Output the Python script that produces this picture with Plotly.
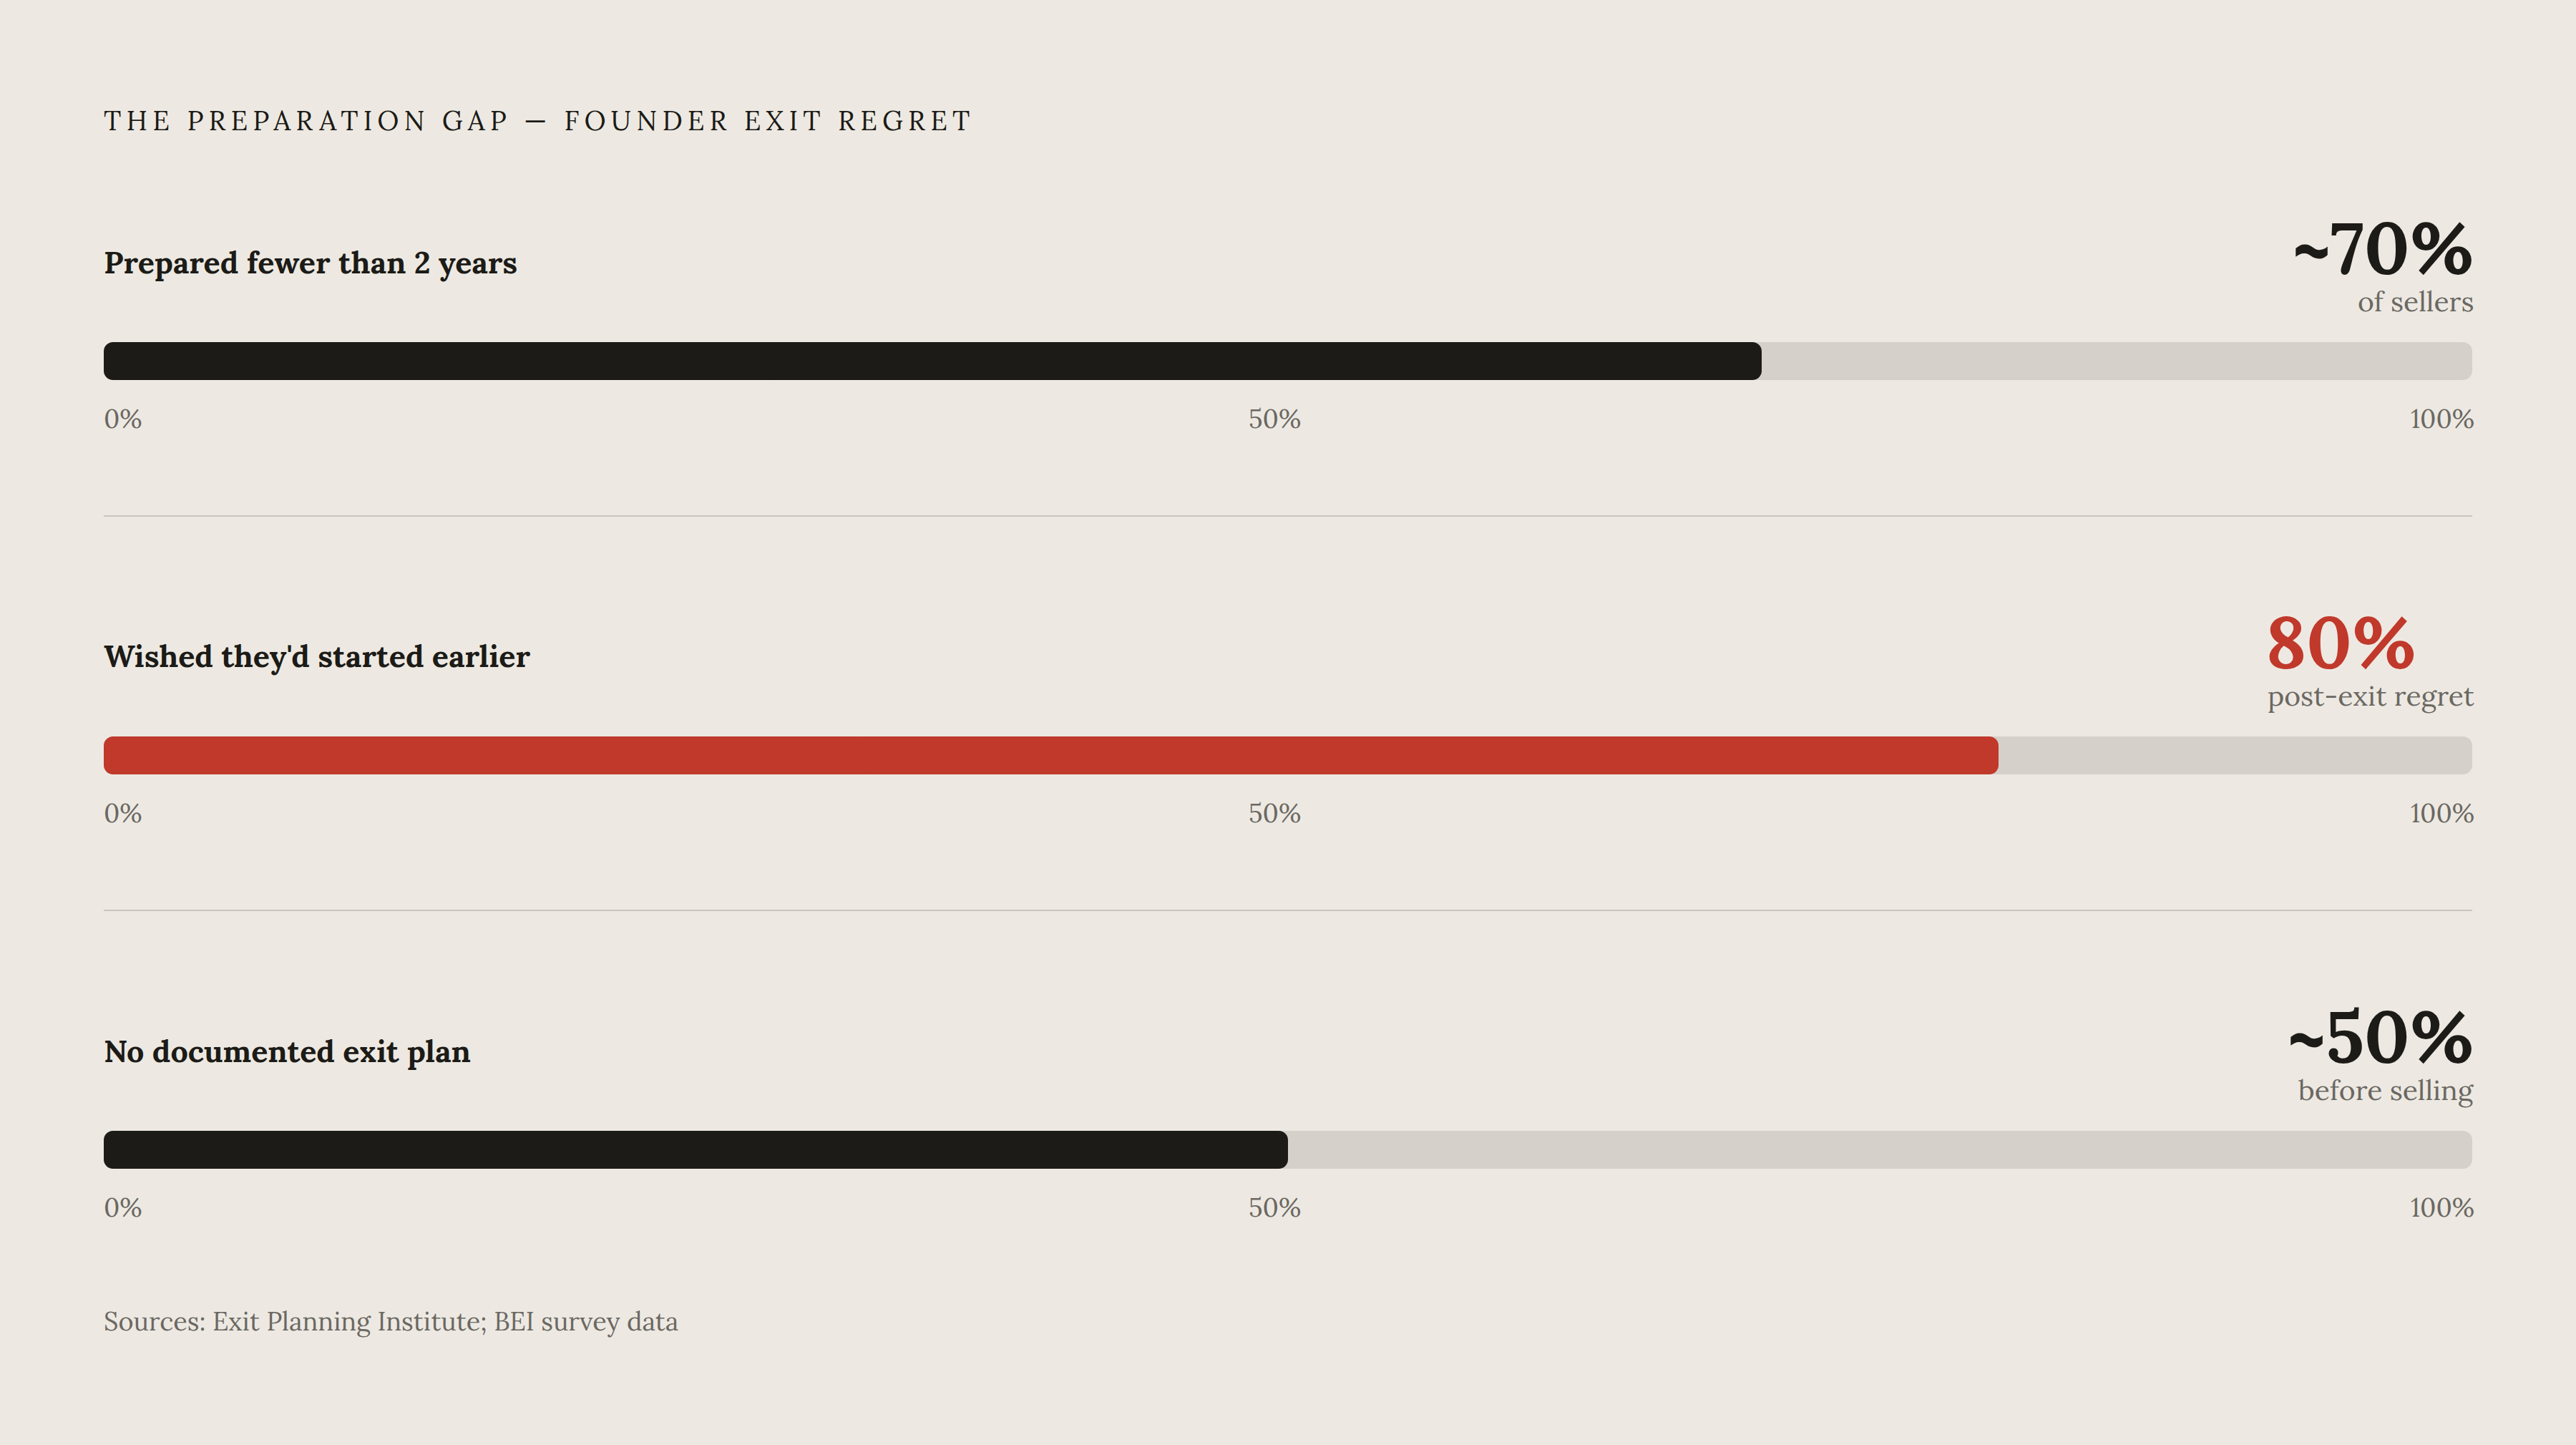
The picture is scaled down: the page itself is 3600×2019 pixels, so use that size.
"""
The preparation gap - founder exit regret.
Three progress-style bars on a warm paper background.
"""
import plotly.graph_objects as go

# Data
TITLE = "THE PREPARATION GAP — FOUNDER EXIT REGRET"
LABELS = ["Prepared fewer than 2 years", "Wished they'd started earlier", "No documented exit plan"]
VALUES = [70, 80, 50]
VALUE_TEXT = ["~70%", "80%", "~50%"]
NOTES = ["of sellers", "post-exit regret", "before selling"]
TICK_VALS = [0, 50, 100]
TICK_TEXT = ["0%", "50%", "100%"]
SOURCE = "Sources: Exit Planning Institute; BEI survey data"
HIGHLIGHT = 1  # row drawn in red

# Style
W, H = 3600, 2019
BG = "#EDE9E2"
INK = "#1C1B17"
RED = "#C0392B"
TRACK = "#D5D0CA"
MUTED = "#6B6862"
RULE = "#C9C4BD"
FONT = "Lora, 'Liberation Serif', serif"

LEFT, RIGHT = 145, 3455      # px
BAR_TOP, BAR_H = 478, 53     # px, first row
ROW = 551                    # px between rows
RADIUS = 13
LPAD, RPAD = -2, 5           # nudge annotation boxes flush with the bar ends


def py(px):
    """pixel from top -> paper y"""
    return 1 - px / H


def half_bars(value, color, xa, ya):
    # two overlapping halves so both ends get rounded corners
    common = dict(orientation="h", y=[0], width=1, marker=dict(color=color, cornerradius=RADIUS, line=dict(width=0)),
                  xaxis=xa, yaxis=ya, hoverinfo="skip", showlegend=False)
    return [
        go.Bar(x=[-value * 0.6], base=[value * 0.6], **common),
        go.Bar(x=[value * 0.6], base=[value * 0.4], **common),
    ]


fig = go.Figure()
layout = dict(
    width=W, height=H,
    paper_bgcolor=BG, plot_bgcolor=BG,
    margin=dict(l=0, r=0, t=0, b=0),
    barmode="overlay",
    font=dict(family=FONT, color=INK),
    showlegend=False,
)
annotations = []
shapes = []

for i, (label, val, vtxt, note) in enumerate(zip(LABELS, VALUES, VALUE_TEXT, NOTES)):
    n = "" if i == 0 else str(i + 1)
    xa, ya = "x" + n, "y" + n
    top = BAR_TOP + ROW * i
    off = ROW * i
    color = RED if i == HIGHLIGHT else INK

    for t in half_bars(100, TRACK, xa, ya):
        fig.add_trace(t)
    for t in half_bars(val, color, xa, ya):
        fig.add_trace(t)

    layout["xaxis" + n] = dict(domain=[LEFT / W, RIGHT / W], range=[0, 100], visible=False, fixedrange=True,
                               anchor=ya)
    layout["yaxis" + n] = dict(domain=[py(top + BAR_H), py(top)], range=[-0.5, 0.5], visible=False,
                               fixedrange=True, anchor=xa)

    # row label
    annotations.append(dict(xref=xa, yref="paper", x=0, y=py(366 + off), xanchor="left", yanchor="middle",
                            xshift=LPAD, text="<b>" + label + "</b>", showarrow=False,
                            font=dict(size=43, color=INK)))
    # big value
    annotations.append(dict(xref=xa, yref="paper", x=100, y=py(345 + off), xanchor="right", yanchor="middle",
                            xshift=(-81 if i == HIGHLIGHT else 0) + RPAD,
                            text="<b>" + vtxt + "</b>", showarrow=False, font=dict(size=100, color=color)))
    # small note
    annotations.append(dict(xref=xa, yref="paper", x=100, y=py(421 + off), xanchor="right", yanchor="middle",
                            xshift=RPAD, text=note, showarrow=False, font=dict(size=39, color=MUTED)))
    # scale labels
    for tv, tt in zip(TICK_VALS, TICK_TEXT):
        anchor = "left" if tv == TICK_VALS[0] else ("right" if tv == TICK_VALS[-1] else "center")
        shift = {"left": LPAD, "right": RPAD, "center": -19}[anchor]
        annotations.append(dict(xref=xa, yref="paper", x=tv, y=py(585 + off), xanchor=anchor, yanchor="middle",
                                xshift=shift, text=tt, showarrow=False, font=dict(size=36, color=MUTED)))
    # divider below row
    if i < len(LABELS) - 1:
        shapes.append(dict(type="line", xref=xa, yref="paper", x0=0, x1=100, y0=py(721 + off), y1=py(721 + off),
                           line=dict(color=RULE, width=2)))

# title + source
annotations.append(dict(xref="paper", yref="paper", x=LEFT / W, y=py(168), xanchor="left", yanchor="middle",
                        xshift=LPAD, text='<span style="letter-spacing:7.2px">' + TITLE + "</span>",
                        showarrow=False, font=dict(size=38, color=INK)))
annotations.append(dict(xref="paper", yref="paper", x=LEFT / W, y=py(1846), xanchor="left", yanchor="middle",
                        xshift=LPAD, text=SOURCE, showarrow=False, font=dict(size=36, color=MUTED)))

layout["annotations"] = annotations
layout["shapes"] = shapes
fig.update_layout(**layout)

# drop the default page margin so the 3600x2019 figure fills the window exactly
fig.write_html("out.html", config={"displayModeBar": False, "staticPlot": True},
               post_script="document.body.style.margin='0';document.body.style.overflow='hidden';")
